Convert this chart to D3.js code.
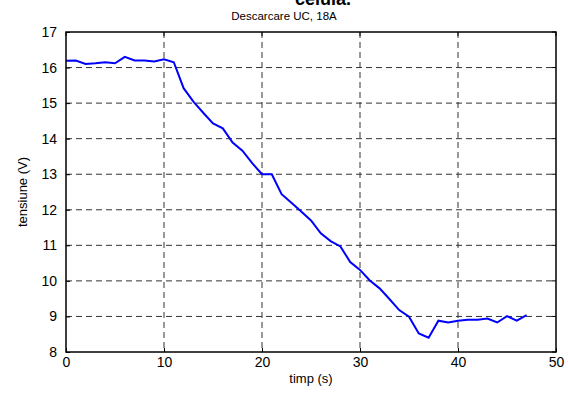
<!DOCTYPE html>
<html><head><meta charset="utf-8">
<script src="https://cdn.jsdelivr.net/npm/d3@7"></script>
<style>body{margin:0;background:#fff}svg{display:block;font-family:"Liberation Sans",Arial,sans-serif}</style>
</head><body>
<svg id="c" width="568" height="393"></svg>
<script>
const timp = d3.range(0, 48);
const tensiune = [16.19,16.2,16.1,16.12,16.15,16.12,16.3,16.2,16.2,16.17,16.23,16.15,
  15.42,15.04,14.73,14.43,14.29,13.89,13.66,13.31,13.0,13.0,12.44,12.2,11.95,11.7,
  11.34,11.12,10.97,10.53,10.31,10.01,9.79,9.49,9.18,8.99,8.52,8.40,8.88,8.83,
  8.88,8.91,8.91,8.94,8.83,9.01,8.88,9.04];
const xTicks = [0,10,20,30,40,50];
const yTicks = [8,9,10,11,12,13,14,15,16,17];

const svg = d3.select("#c");
const L=66,R=556,T=32,B=352;
const x = d3.scaleLinear().domain([0,50]).range([L,R]);
const y = d3.scaleLinear().domain([8,17]).range([B,T]);

// grid
const g = svg.append("g");
g.selectAll(".vx").data(xTicks.slice(1,-1)).join("line")
  .attr("x1",d=>x(d)).attr("x2",d=>x(d)).attr("y1",T).attr("y2",B)
  .attr("stroke","#333").attr("stroke-width",1).attr("stroke-dasharray","6,4");
g.selectAll(".hy").data(yTicks.slice(1,-1)).join("line")
  .attr("x1",L).attr("x2",R).attr("y1",d=>y(d)).attr("y2",d=>y(d))
  .attr("stroke","#333").attr("stroke-width",1).attr("stroke-dasharray","6,4");

// line
svg.append("path").datum(timp.map((t,i)=>[t,tensiune[i]]))
  .attr("fill","none").attr("stroke","#0000ff").attr("stroke-width",2)
  .attr("d", d3.line().x(d=>x(d[0])).y(d=>y(d[1])));

// axes
const ax = svg.append("g").attr("transform",`translate(0,${B})`)
  .call(d3.axisBottom(x).tickValues(xTicks).tickSizeInner(-4).tickSizeOuter(0).tickPadding(7));
const ay = svg.append("g").attr("transform",`translate(${L},0)`)
  .call(d3.axisLeft(y).tickValues(yTicks).tickSizeInner(-4).tickSizeOuter(0).tickPadding(9));
[ax,ay].forEach(a=>{a.select(".domain").remove();a.selectAll("text").attr("font-size",14).attr("fill","#000").style("font-family","Liberation Sans, Arial, sans-serif");a.selectAll("line").attr("stroke","#000");});
ax.selectAll("text").attr("dy","0.6em");
// top/right ticks
svg.append("g").selectAll("line").data(xTicks).join("line")
  .attr("x1",d=>x(d)).attr("x2",d=>x(d)).attr("y1",T).attr("y2",T+4).attr("stroke","#000");
svg.append("g").selectAll("line").data(yTicks).join("line")
  .attr("x1",R-4).attr("x2",R).attr("y1",d=>y(d)).attr("y2",d=>y(d)).attr("stroke","#000");

svg.append("rect").attr("x",L).attr("y",T).attr("width",R-L).attr("height",B-T)
  .attr("fill","none").attr("stroke","#000").attr("stroke-width",1.5);

// labels
svg.append("text").attr("x",311).attr("y",383).attr("text-anchor","middle").attr("font-size",13).text("timp (s)");
svg.append("text").attr("transform","translate(27,192) rotate(-90)").attr("text-anchor","middle").attr("font-size",13).text("tensiune (V)");
svg.append("text").attr("x",284).attr("y",20).attr("text-anchor","middle").attr("font-size",11.5).text("Descarcare UC, 18A");
svg.append("text").attr("x",323).attr("y",5).attr("text-anchor","middle").attr("font-size",18).attr("font-weight","bold").text("celula.");
</script>
</body></html>
